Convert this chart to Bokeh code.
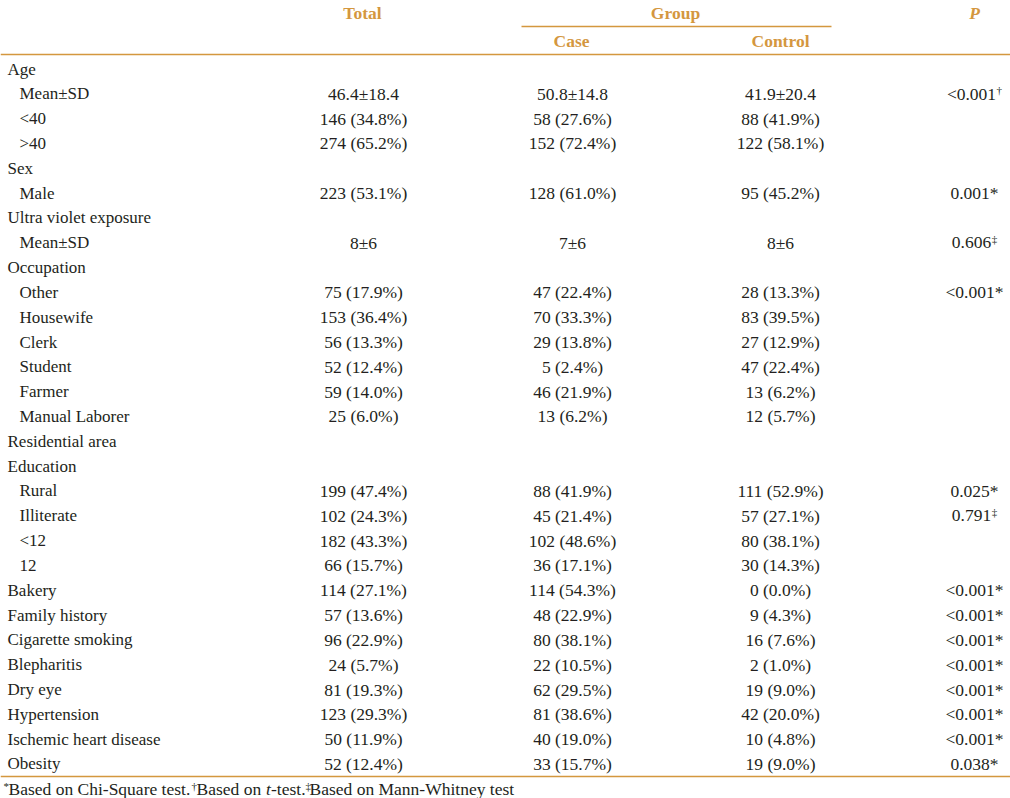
from bokeh.plotting import figure
from bokeh.models import Range1d, ColumnDataSource
from bokeh.core.properties import value
from bokeh.embed import file_html
from bokeh.resources import INLINE

# ---------------- data ----------------
row_labels = ["Age", "Mean±SD", "<40", ">40", "Sex", "Male", "Ultra violet exposure", "Mean±SD",
              "Occupation", "Other", "Housewife", "Clerk", "Student", "Farmer", "Manual Laborer",
              "Residential area", "Education", "Rural", "Illiterate", "<12", "12", "Bakery",
              "Family history", "Cigarette smoking", "Blepharitis", "Dry eye", "Hypertension",
              "Ischemic heart disease", "Obesity"]
row_indent = [0, 1, 1, 1, 0, 1, 0, 1, 0, 1, 1, 1, 1, 1, 1, 0, 0, 1, 1, 1, 1, 0, 0, 0, 0, 0, 0, 0, 0]
total_vals = ["", "46.4±18.4", "146 (34.8%)", "274 (65.2%)", "", "223 (53.1%)", "", "8±6",
              "", "75 (17.9%)", "153 (36.4%)", "56 (13.3%)", "52 (12.4%)", "59 (14.0%)", "25 (6.0%)",
              "", "", "199 (47.4%)", "102 (24.3%)", "182 (43.3%)", "66 (15.7%)", "114 (27.1%)",
              "57 (13.6%)", "96 (22.9%)", "24 (5.7%)", "81 (19.3%)", "123 (29.3%)", "50 (11.9%)", "52 (12.4%)"]
case_vals = ["", "50.8±14.8", "58 (27.6%)", "152 (72.4%)", "", "128 (61.0%)", "", "7±6",
             "", "47 (22.4%)", "70 (33.3%)", "29 (13.8%)", "5 (2.4%)", "46 (21.9%)", "13 (6.2%)",
             "", "", "88 (41.9%)", "45 (21.4%)", "102 (48.6%)", "36 (17.1%)", "114 (54.3%)",
             "48 (22.9%)", "80 (38.1%)", "22 (10.5%)", "62 (29.5%)", "81 (38.6%)", "40 (19.0%)", "33 (15.7%)"]
control_vals = ["", "41.9±20.4", "88 (41.9%)", "122 (58.1%)", "", "95 (45.2%)", "", "8±6",
                "", "28 (13.3%)", "83 (39.5%)", "27 (12.9%)", "47 (22.4%)", "13 (6.2%)", "12 (5.7%)",
                "", "", "111 (52.9%)", "57 (27.1%)", "80 (38.1%)", "30 (14.3%)", "0 (0.0%)",
                "9 (4.3%)", "16 (7.6%)", "2 (1.0%)", "19 (9.0%)", "42 (20.0%)", "10 (4.8%)", "19 (9.0%)"]
p_vals = ["", "<0.001", "", "", "", "0.001*", "", "0.606",
          "", "<0.001*", "", "", "", "", "",
          "", "", "0.025*", "0.791", "", "", "<0.001*",
          "<0.001*", "<0.001*", "<0.001*", "<0.001*", "<0.001*", "<0.001*", "0.038*"]
p_marks = ["", "†", "", "", "", "", "", "‡",
           "", "", "", "", "", "", "",
           "", "", "", "‡", "", "", "",
           "", "", "", "", "", "", ""]
header_cols = ["Total", "Group", "Case", "Control"]
footnote = ["*", "Based on Chi-Square test.", "†", "Based on ", "t", "-test.", "‡", "Based on Mann-Whitney test"]

# ---------------- layout ----------------
FONT = "Liberation Serif"
FS_LAB = "17px"
FS_NUM = "17.5px"
TXT = "#231f20"
ORANGE = "#d4973f"

p = figure(width=1010, height=798, output_backend="svg", toolbar_location=None,
           x_range=Range1d(0, 1010), y_range=Range1d(798, 0), min_border=0)
p.axis.visible = False
p.grid.visible = False
p.outline_line_color = None
p.background_fill_color = "white"

y0, step = 68.5, 24.82
ys = [y0 + i * step for i in range(len(row_labels))]

lab_src = ColumnDataSource(dict(x=[7 + 12 * k for k in row_indent], y=ys, t=row_labels))
p.text(x="x", y="y", text="t", source=lab_src, text_font=value(FONT), text_font_size=FS_LAB,
       text_color=TXT, text_align="left", text_baseline="middle")

for cx, vals in [(363, total_vals), (572, case_vals), (780, control_vals)]:
    src = ColumnDataSource(dict(x=[cx] * len(vals), y=ys, t=vals))
    p.text(x="x", y="y", text="t", source=src, text_font=value(FONT), text_font_size=FS_NUM,
           text_color=TXT, text_align="center", text_baseline="middle")

# P column: approximate glyph widths (em) for placing the superscript marks
EM = 17.5
cw = {"<": 0.564, ".": 0.25, "*": 0.5}
def tw(s):
    return sum(cw.get(c, 0.5) for c in s) * EM

PC = 974
px_, pt_, mx, my, mt = [], [], [], [], []
for i, (pv, m) in enumerate(zip(p_vals, p_marks)):
    if m:
        w = tw(pv)
        left = PC - (w + 6) / 2
        px_.append(left + w / 2)
        mx.append(left + w + 0.5)
        my.append(ys[i] - 4)
        mt.append(m)
    else:
        px_.append(PC)
    pt_.append(pv)
psrc = ColumnDataSource(dict(x=px_, y=ys, t=pt_))
p.text(x="x", y="y", text="t", source=psrc, text_font=value(FONT), text_font_size=FS_NUM,
       text_color=TXT, text_align="center", text_baseline="middle")
p.text(x=mx, y=my, text=mt, text_font=value(FONT), text_font_size="11px",
       text_color=TXT, text_align="left", text_baseline="middle")

# header
hx = [362, 675, 571, 780]
hy = [12, 12, 40, 40]
p.text(x=hx, y=hy, text=header_cols, text_font=value(FONT), text_font_size="17.5px",
       text_font_style="bold", text_color=ORANGE, text_align="center", text_baseline="middle")
p.text(x=[974], y=[12], text=["P"], text_font=value(FONT), text_font_size="17.5px",
       text_font_style="bold italic", text_color=ORANGE, text_align="center", text_baseline="middle")

# rules
p.segment(x0=[521, 0, 0], y0=[26, 54, 776], x1=[831, 1010, 1010], y1=[26, 54, 776],
          line_color=ORANGE, line_width=1.3)

# footnote
fx = [3, 8, 191, 196, 265.5, 270.5, 305, 309]
fy = [785, 788, 785, 788, 788, 788, 785, 788]
fsz = ["11px", "17.5px", "11px", "17.5px", "17.5px", "17.5px", "11px", "17.5px"]
fst = ["normal", "normal", "normal", "normal", "italic", "normal", "normal", "normal"]
fsrc = ColumnDataSource(dict(x=fx, y=fy, t=footnote, s=fsz, st=fst))
p.text(x="x", y="y", text="t", source=fsrc, text_font=value(FONT), text_font_size="s",
       text_font_style="st", text_color=TXT, text_align="left", text_baseline="middle")

open("out.html", "w").write(file_html(p, INLINE))
